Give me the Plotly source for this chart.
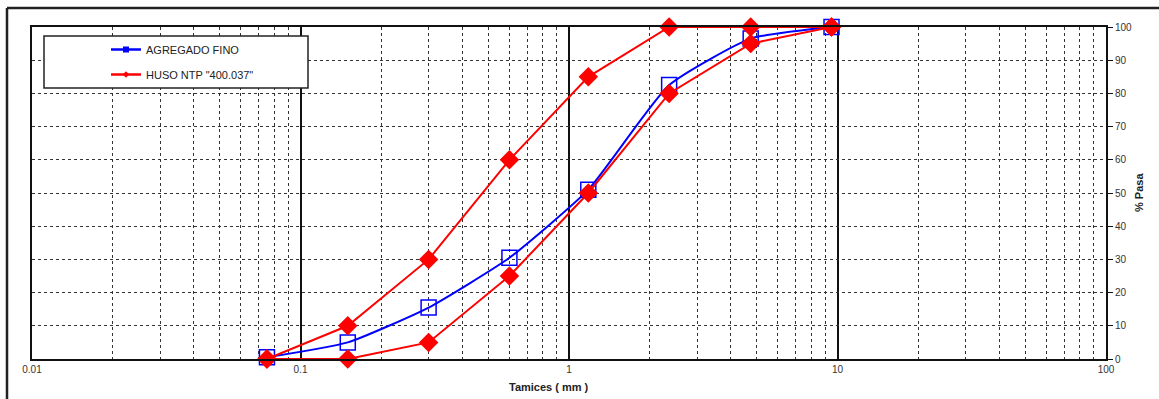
import plotly.graph_objects as go

sieves_mm = [0.075, 0.15, 0.3, 0.6, 1.18, 2.36, 4.75, 9.5]
agregado_fino = [0.5, 5, 15.5, 30.5, 51, 82.5, 96.5, 100]
huso_sup = [0, 10, 30, 60, 85, 100, 100, 100]
huso_inf = [0, 0, 5, 25, 50, 80, 95, 100]
x_ticks = [0.01, 0.1, 1, 10, 100]
x_tick_text = ["0.01", "0.1", "1", "10", "100"]
y_ticks = list(range(0, 101, 10))

BLUE = "#0000ff"
RED = "#ff0000"
FONT = "Liberation Sans, Arial, sans-serif"

fig = go.Figure()

fig.add_trace(go.Scatter(x=sieves_mm, y=agregado_fino, mode="lines+markers",
                         line=dict(color=BLUE, width=2, shape="spline", smoothing=0.5),
                         marker=dict(symbol="square-open", size=15, color=BLUE,
                                     line=dict(width=1.5, color=BLUE)),
                         cliponaxis=False, showlegend=False))
fig.add_trace(go.Scatter(x=sieves_mm, y=huso_sup, mode="lines+markers",
                         line=dict(color=RED, width=2),
                         marker=dict(symbol="diamond", size=15, color=RED),
                         cliponaxis=False, showlegend=False))
fig.add_trace(go.Scatter(x=sieves_mm, y=huso_inf, mode="lines+markers",
                         line=dict(color=RED, width=2),
                         marker=dict(symbol="diamond", size=15, color=RED),
                         cliponaxis=False, showlegend=False))

# legend entries
fig.add_trace(go.Scatter(x=[None], y=[None], mode="lines+markers", name="AGREGADO FINO",
                         line=dict(color=BLUE, width=2.5),
                         marker=dict(symbol="square", size=6, color=BLUE),
                         legendgroup="a"))
fig.add_trace(go.Scatter(x=[None], y=[None], mode="lines+markers", name='HUSO NTP "400.037"',
                         line=dict(color=RED, width=2.5),
                         marker=dict(symbol="diamond", size=5, color=RED),
                         legendgroup="b"))

W, H = 1159, 399
L, R, T, B = 32, 53, 27, 40
pw, ph = W - L - R, H - T - B

def px(xp):
    return (xp - L) / pw

def py(yp):
    return (H - B - yp) / ph

# legend box
fig.add_shape(type="rect", xref="paper", yref="paper",
              x0=px(44), x1=px(308), y0=py(88), y1=py(36),
              line=dict(color="#222", width=1.5), fillcolor="white", layer="above")
# outer frame
fig.add_shape(type="line", xref="paper", yref="paper",
              x0=px(7), x1=px(1170), y0=py(8), y1=py(8),
              line=dict(color="#222", width=2.5))
fig.add_shape(type="line", xref="paper", yref="paper",
              x0=px(7), x1=px(7), y0=py(8), y1=py(410),
              line=dict(color="#222", width=2.5))

fig.add_annotation(xref="paper", yref="paper", x=px(549), y=py(387),
                   xanchor="center", yanchor="middle",
                   text="<b>Tamices ( mm )</b>", showarrow=False,
                   font=dict(family=FONT, size=11, color="#222"))
fig.add_annotation(xref="paper", yref="paper", x=px(1139), y=0.5,
                   xanchor="center", yanchor="middle",
                   text="<b>% Pasa</b>", showarrow=False, textangle=-90,
                   font=dict(family=FONT, size=11, color="#222"))

fig.update_layout(
    width=W, height=H,
    margin=dict(l=L, r=R, t=T, b=B),
    paper_bgcolor="white", plot_bgcolor="white",
    font=dict(family=FONT, size=10, color="#333"),
    legend=dict(x=px(106), y=py(35), xanchor="left", yanchor="top",
                bgcolor="rgba(0,0,0,0)", borderwidth=0,
                font=dict(family=FONT, size=11, color="#222"),
                tracegroupgap=6, traceorder="grouped"),
    xaxis=dict(type="log", range=[-2, 2], tickvals=x_ticks, ticktext=x_tick_text,
               showgrid=True, gridcolor="#111", gridwidth=2,
               showline=True, linecolor="#111", linewidth=2, mirror=True,
               ticks="", zeroline=False,
               minor=dict(tickvals=[m * 10 ** e for e in range(-2, 2) for m in range(2, 10)],
                          showgrid=True, gridcolor="#333", griddash="dot", gridwidth=1)),
    yaxis=dict(range=[0, 100], tickvals=y_ticks, side="right",
               showgrid=True, gridcolor="#333", griddash="dot", gridwidth=1,
               showline=True, linecolor="#111", linewidth=2, mirror=True,
               ticks="outside", ticklen=5, tickcolor="#111", zeroline=False),
)

fig.write_html("out.html")
